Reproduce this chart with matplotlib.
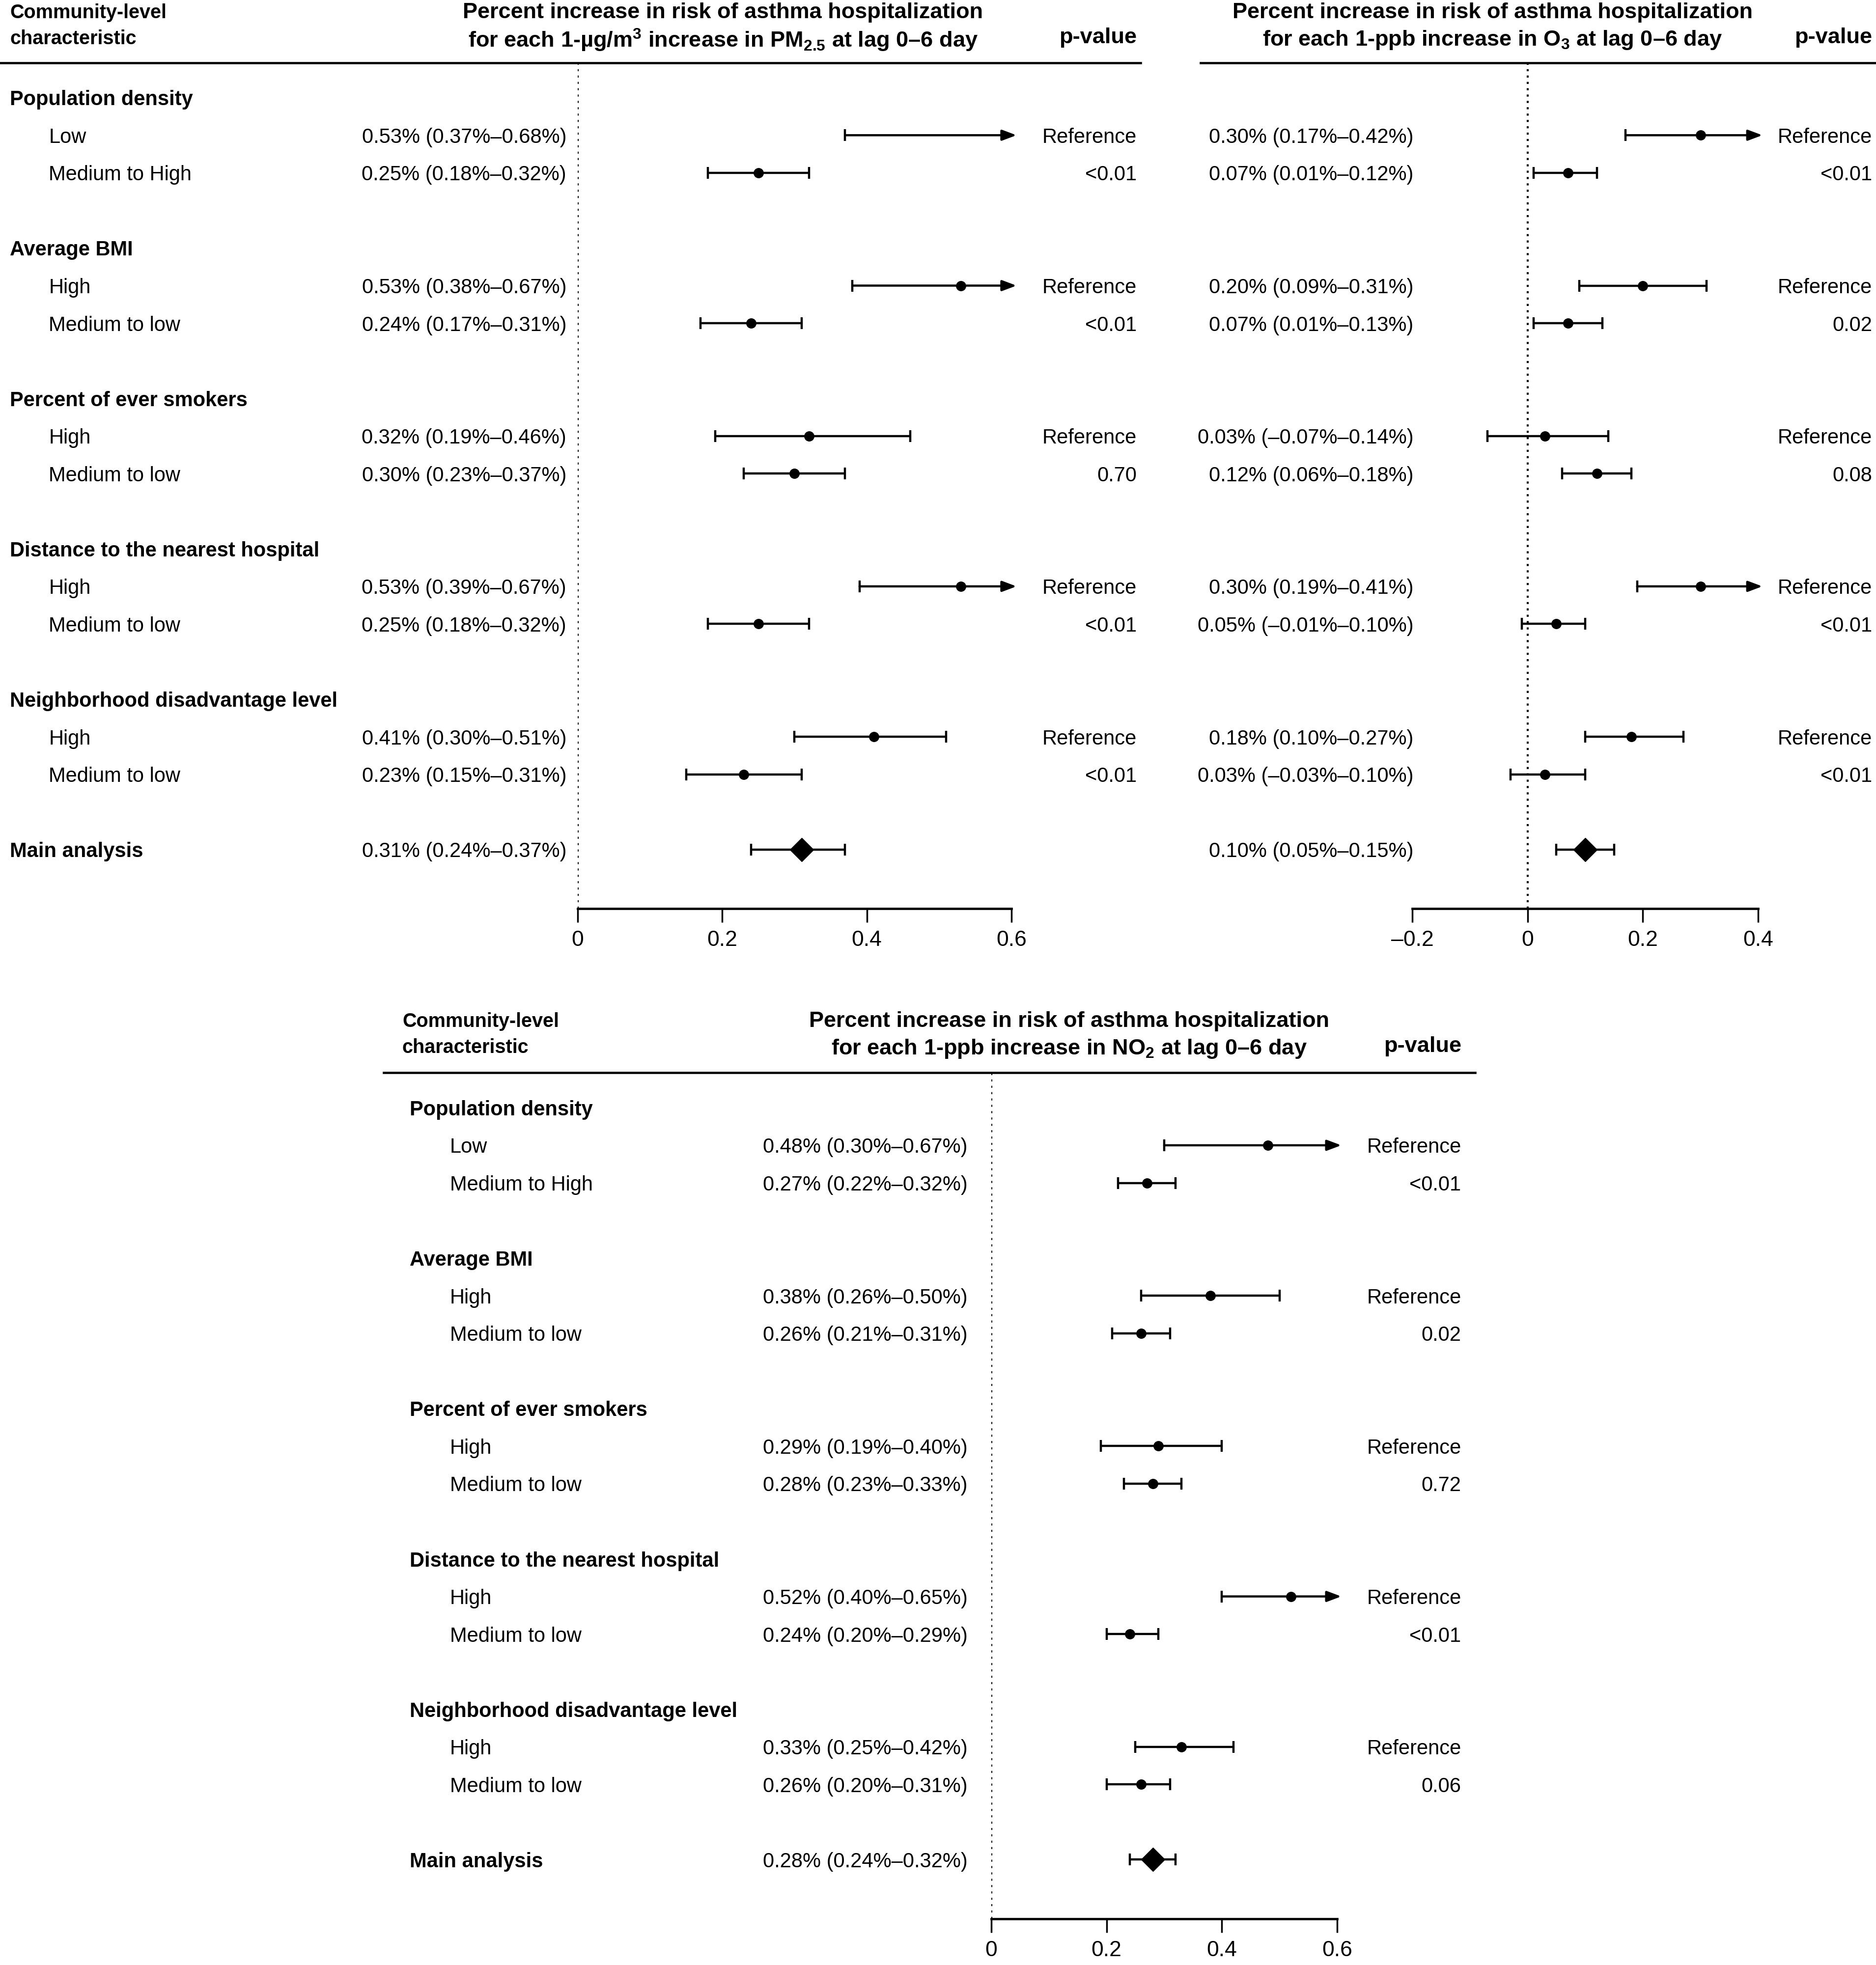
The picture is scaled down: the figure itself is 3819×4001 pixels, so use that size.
import matplotlib
matplotlib.use("Agg")
import matplotlib.pyplot as plt
from matplotlib.lines import Line2D
from matplotlib.transforms import blended_transform_factory

plt.rcParams['font.family'] = ['Liberation Sans', 'DejaVu Sans']
plt.rcParams['mathtext.fontset'] = 'custom'
plt.rcParams['mathtext.rm'] = 'Liberation Sans'
plt.rcParams['mathtext.bf'] = 'Liberation Sans:bold'
plt.rcParams['mathtext.default'] = 'bf'

# ---- data ----
groups = ["Population density", "Average BMI", "Percent of ever smokers",
          "Distance to the nearest hospital", "Neighborhood disadvantage level"]
levels = [["Low", "Medium to High"], ["High", "Medium to low"], ["High", "Medium to low"],
          ["High", "Medium to low"], ["High", "Medium to low"]]

pm25_est = [0.53, 0.25, 0.53, 0.24, 0.32, 0.30, 0.53, 0.25, 0.41, 0.23]
pm25_lo = [0.37, 0.18, 0.38, 0.17, 0.19, 0.23, 0.39, 0.18, 0.30, 0.15]
pm25_hi = [0.68, 0.32, 0.67, 0.31, 0.46, 0.37, 0.67, 0.32, 0.51, 0.31]
pm25_p = ["Reference", "<0.01", "Reference", "<0.01", "Reference", "0.70",
          "Reference", "<0.01", "Reference", "<0.01"]
pm25_main = [0.31, 0.24, 0.37]
pm25_no_dot = [0]  # the point is not drawn on this row in the original

o3_est = [0.30, 0.07, 0.20, 0.07, 0.03, 0.12, 0.30, 0.05, 0.18, 0.03]
o3_lo = [0.17, 0.01, 0.09, 0.01, -0.07, 0.06, 0.19, -0.01, 0.10, -0.03]
o3_hi = [0.42, 0.12, 0.31, 0.13, 0.14, 0.18, 0.41, 0.10, 0.27, 0.10]
o3_p = ["Reference", "<0.01", "Reference", "0.02", "Reference", "0.08",
        "Reference", "<0.01", "Reference", "<0.01"]
o3_main = [0.10, 0.05, 0.15]

no2_est = [0.48, 0.27, 0.38, 0.26, 0.29, 0.28, 0.52, 0.24, 0.33, 0.26]
no2_lo = [0.30, 0.22, 0.26, 0.21, 0.19, 0.23, 0.40, 0.20, 0.25, 0.20]
no2_hi = [0.67, 0.32, 0.50, 0.31, 0.40, 0.33, 0.65, 0.29, 0.42, 0.31]
no2_p = ["Reference", "<0.01", "Reference", "0.02", "Reference", "0.72",
         "Reference", "<0.01", "Reference", "0.06"]
no2_main = [0.28, 0.24, 0.32]

# ---- layout helpers (positions measured on a 1497x1568 copy) ----
W, H = 1497, 1568
FS = 30
TITLE_FS = 32.5
TICK_FS = 32
LW = 3.2


def fx(px):
    return px / W


def fy(py):
    return 1 - py / H


def num(v, pct=True):
    s = f"{v:.2f}" if pct else f"{v:g}"
    s = s.replace('-', '\u2013')
    return s + ('%' if pct else '')


def ci_label(e, lo, hi):
    return f"{num(e)} ({num(lo)}\u2013{num(hi)})"


def draw_panel(fig, p):
    ax = fig.add_axes([fx(p['x0']), fy(p['bottom']), fx(p['x1'] - p['x0']),
                       (p['bottom'] - p['top']) / H])
    xmin, xmax = p['xlim']
    ax.set_xlim(xmin, xmax)
    ax.set_ylim(21.57, -0.93)
    for s in ['top', 'left', 'right']:
        ax.spines[s].set_visible(False)
    ax.spines['bottom'].set_linewidth(3.4)
    ax.set_yticks([])
    ax.set_xticks(p['ticks'])
    ax.set_xticklabels([num(t, pct=False) for t in p['ticks']])
    ax.tick_params(axis='x', length=20, width=2.5, labelsize=TICK_FS, pad=12)
    ax.patch.set_alpha(0)
    ax.axvline(0, color='black', lw=3.0, ls=(0, (1, 2.1)))

    tr = blended_transform_factory(fig.transFigure, ax.transData)
    labels = p.get('labels', True)

    # header
    fig.add_artist(Line2D([fx(p['line'][0]), fx(p['line'][1])], [fy(p['top'])] * 2,
                          color='black', lw=3.3, transform=fig.transFigure))
    if labels:
        fig.text(fx(p['hx']), fy(p['ty'][0]), "Community-level", fontsize=28.5,
                 fontweight='bold', va='center', ha='left')
        fig.text(fx(p['hx']), fy(p['ty'][1] - 1), "characteristic", fontsize=28.5,
                 fontweight='bold', va='center', ha='left')
    fig.text(fx(p['tc']), fy(p['ty'][0]), "Percent increase in risk of asthma hospitalization",
             fontsize=TITLE_FS, fontweight='bold', va='center', ha='center')
    fig.text(fx(p['tc']), fy(p['ty'][1]), p['title2'], fontsize=TITLE_FS,
             fontweight='bold', va='center', ha='center')
    fig.text(fx(p['pr']), fy(p['ty'][1] - 2), "p-value", fontsize=TITLE_FS,
             fontweight='bold', va='center', ha='right')

    est, lo, hi, pv = p['est'], p['lo'], p['hi'], p['p']
    for g, name in enumerate(groups):
        yg = 4 * g
        if labels:
            ax.text(fx(p['cx']), yg, name, transform=tr, fontsize=FS,
                    fontweight='bold', va='center_baseline', ha='left')
        for k in range(2):
            i = 2 * g + k
            y = yg + 1 + k
            if labels:
                ax.text(fx(p['sx']), y, levels[g][k], transform=tr, fontsize=FS,
                        va='center_baseline', ha='left')
            ax.text(fx(p['er']), y, ci_label(est[i], lo[i], hi[i]), transform=tr,
                    fontsize=FS, va='center_baseline', ha='right')
            ax.text(fx(p['pr']), y, pv[i], transform=tr, fontsize=FS,
                    va='center_baseline', ha='right')
            if hi[i] > xmax:
                ax.plot([lo[i]], [y], marker='|', ms=17, mew=LW, color='black')
                ax.annotate('', xy=(xmax + 0.012 * (xmax - xmin), y), xytext=(lo[i], y),
                            arrowprops=dict(arrowstyle='-|>,head_length=0.8,head_width=0.3',
                                            mutation_scale=22, lw=LW, color='black',
                                            shrinkA=0, shrinkB=0),
                            annotation_clip=False)
                if i not in p.get('no_dot', []):
                    ax.plot([est[i]], [y], 'o', ms=14, color='black')
            else:
                ax.errorbar([est[i]], [y], xerr=[[est[i] - lo[i]], [hi[i] - est[i]]],
                            fmt='o', ms=14, color='black', elinewidth=LW,
                            capsize=8.5, capthick=LW)

    m = p['main']
    if labels:
        ax.text(fx(p['cx']), 20, "Main analysis", transform=tr, fontsize=FS,
                fontweight='bold', va='center_baseline', ha='left')
    ax.text(fx(p['er']), 20, ci_label(*m), transform=tr, fontsize=FS,
            va='center_baseline', ha='right')
    ax.errorbar([m[0]], [20], xerr=[[m[0] - m[1]], [m[2] - m[0]]], fmt='D', ms=24,
                color='black', elinewidth=LW, capsize=8.5, capthick=LW)
    return ax


fig = plt.figure(figsize=(38.19, 40.01), dpi=100)

panels = [
    dict(x0=461, x1=807, top=50, bottom=725, xlim=(0, 0.6), ticks=[0, 0.2, 0.4, 0.6],
         line=(0, 910), hx=8, cx=8, sx=39, er=452, pr=907, tc=577, ty=(10, 32),
         title2="for each 1-\u00b5g/m$^3$ increase in PM$_{2.5}$ at lag 0\u20136 day",
         est=pm25_est, lo=pm25_lo, hi=pm25_hi, p=pm25_p, main=pm25_main,
         no_dot=pm25_no_dot),
    dict(x0=1127, x1=1403, top=50, bottom=725, xlim=(-0.2, 0.4), ticks=[-0.2, 0, 0.2, 0.4],
         line=(958, 1497), er=1128, pr=1494, tc=1191, ty=(10, 32), labels=False,
         title2="for each 1-ppb increase in O$_3$ at lag 0\u20136 day",
         est=o3_est, lo=o3_lo, hi=o3_hi, p=o3_p, main=o3_main),
    dict(x0=791, x1=1067, top=856, bottom=1531, xlim=(0, 0.6), ticks=[0, 0.2, 0.4, 0.6],
         line=(306, 1177), hx=321, cx=327, sx=359, er=772, pr=1166, tc=853, ty=(815, 837),
         title2="for each 1-ppb increase in NO$_2$ at lag 0\u20136 day",
         est=no2_est, lo=no2_lo, hi=no2_hi, p=no2_p, main=no2_main),
]

for p in panels:
    draw_panel(fig, p)

fig.savefig("out.png", dpi=100, facecolor='white')
